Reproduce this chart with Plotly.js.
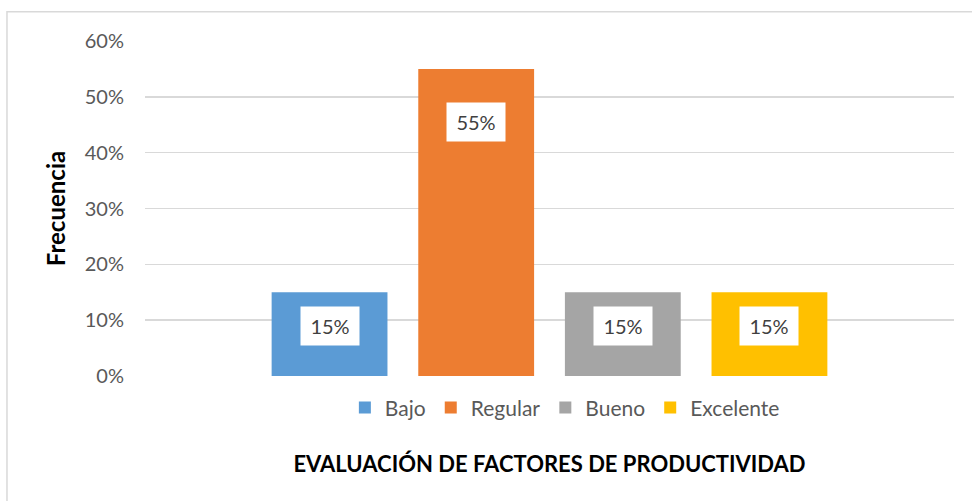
<!DOCTYPE html>
<html>
<head>
<meta charset="utf-8">
<script src="https://cdn.plot.ly/plotly-3.0.1.min.js"></script>
<style>
  html, body { margin: 0; padding: 0; background: #fff; }
  #grafico { width: 972px; height: 501px; }
</style>
</head>
<body>
<div id="grafico"></div>
<script>
"use strict";

// niveles de la evaluacion y su frecuencia
var niveles = ['Bajo', 'Regular', 'Bueno', 'Excelente'];
var frecuencia = [0.15, 0.55, 0.15, 0.15];
var colores = ['#5b9bd5', '#ed7d31', '#a5a5a5', '#ffc000'];
var categoria = ['Evaluación'];

var ejeY = [0, 0.1, 0.2, 0.3, 0.4, 0.5, 0.6];
var ejeYtexto = ['0%', '10%', '20%', '30%', '40%', '50%', '60%'];

var fuente = 'Lato, "Open Sans", sans-serif';

// una serie por nivel, como en Excel
var data = [];
niveles.forEach(function (nivel, i) {
  data.push({
    type: 'bar',
    name: nivel,
    x: categoria,
    y: [frecuencia[i]],
    marker: { color: colores[i] },
    hoverinfo: 'name+y'
  });
});

// etiquetas con caja blanca dentro de cada barra
var etiquetas = [];
var ancho = 1 / niveles.length;
niveles.forEach(function (nivel, i) {
  var v = frecuencia[i];
  etiquetas.push({
    xref: 'x domain',
    yref: 'y',
    x: 0.5 + (1 - 0.275) * ancho * (i - (niveles.length - 1) / 2),
    y: v * 0.914 - 0.048,
    xanchor: 'center',
    yanchor: 'middle',
    text: Math.round(v * 100) + '%',
    showarrow: false,
    bgcolor: '#ffffff',
    width: 56,
    height: 36,
    borderpad: 1,
    font: { family: fuente, size: 20, color: '#404040' }
  });
});

var layout = {
  width: 972,
  height: 501,
  margin: { l: 145, r: 18, t: 41, b: 125 },
  paper_bgcolor: '#ffffff',
  plot_bgcolor: '#ffffff',
  barmode: 'group',
  bargap: 0.275,
  bargroupgap: 0.21,
  showlegend: true,
  legend: {
    orientation: 'h',
    x: 0.519,
    xanchor: 'center',
    y: -0.095,
    yanchor: 'middle',
    font: { family: fuente, size: 21, color: '#595959' },
    itemwidth: 30,
    traceorder: 'normal'
  },
  xaxis: {
    type: 'category',
    range: [-0.5, 0.5],
    showticklabels: false,
    showgrid: false,
    zeroline: false,
    showline: false,
    title: {
      text: 'EVALUACIÓN DE FACTORES DE PRODUCTIVIDAD',
      font: { family: fuente, size: 22, color: '#000000', weight: 'bold' },
      standoff: 80
    }
  },
  yaxis: {
    range: [0, 0.6],
    tickvals: ejeY,
    ticktext: ejeYtexto,
    showgrid: true,
    gridcolor: '#d9d9d9',
    gridwidth: 1.5,
    zeroline: false,
    showline: false,
    ticks: '',
    ticklabelstandoff: 20,
    tickfont: { family: fuente, size: 20, color: '#595959' },
    title: {
      text: 'Frecuencia',
      font: { family: fuente, size: 24, color: '#000000', weight: 'bold' },
      standoff: 12
    }
  },
  annotations: etiquetas,
  shapes: [{
    type: 'rect',
    xref: 'paper',
    yref: 'paper',
    x0: -0.1706, x1: 1.1,
    y0: -0.5, y1: 1.087,
    line: { color: '#d9d9d9', width: 1.5 },
    fillcolor: 'rgba(0,0,0,0)',
    layer: 'below'
  }]
};

Plotly.newPlot('grafico', data, layout, { displayModeBar: false, staticPlot: true });
</script>
</body>
</html>
